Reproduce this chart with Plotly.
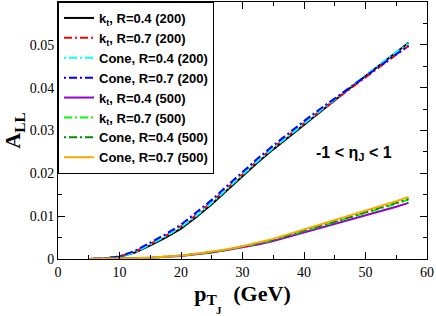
import plotly.graph_objects as go

pt = [5, 7.5, 10, 12.5, 15, 17.5, 20, 22.5, 25, 27.5, 30, 32.5, 35, 37.5, 40, 42.5, 45, 47.5, 50, 52.5, 55, 57]

kt04_200 = [0.0000, 0.0001, 0.0005, 0.0015, 0.0032, 0.0050, 0.0071, 0.0098, 0.0128, 0.0161, 0.0195,
            0.0226, 0.0256, 0.0285, 0.0314, 0.0342, 0.0370, 0.0399, 0.0427, 0.0455, 0.0483, 0.0505]
kt07_200 = [0.0000, 0.0001, 0.0006, 0.0017, 0.0035, 0.0054, 0.0076, 0.0103, 0.0133, 0.0166, 0.0199,
            0.0230, 0.0260, 0.0289, 0.0317, 0.0344, 0.0371, 0.0398, 0.0425, 0.0451, 0.0477, 0.0497]
cone04_200 = [0.0000, 0.0001, 0.0005, 0.0016, 0.0034, 0.0053, 0.0074, 0.0101, 0.0131, 0.0164, 0.0198,
              0.0229, 0.0259, 0.0288, 0.0317, 0.0345, 0.0373, 0.0401, 0.0429, 0.0456, 0.0483, 0.0503]
cone07_200 = [0.0000, 0.0001, 0.0006, 0.0019, 0.0038, 0.0058, 0.0080, 0.0108, 0.0138, 0.0171, 0.0204,
              0.0235, 0.0265, 0.0294, 0.0322, 0.0349, 0.0375, 0.0402, 0.0428, 0.0453, 0.0478, 0.0498]
kt04_500 = [0.0000, 0.00003, 0.0001, 0.0002, 0.0003, 0.0005, 0.0007, 0.0011, 0.0015, 0.0021, 0.0027,
            0.0034, 0.0042, 0.0052, 0.0062, 0.0071, 0.0081, 0.0091, 0.0101, 0.0111, 0.0122, 0.0131]
kt07_500 = [0.0000, 0.00003, 0.0001, 0.0002, 0.0003, 0.0005, 0.0008, 0.0012, 0.0016, 0.0022, 0.0029,
            0.0036, 0.0045, 0.0055, 0.0066, 0.0076, 0.0086, 0.0097, 0.0107, 0.0118, 0.0129, 0.0139]
cone04_500 = [0.0000, 0.00003, 0.0001, 0.0002, 0.0003, 0.0005, 0.0008, 0.0012, 0.0016, 0.0022, 0.0029,
              0.0037, 0.0045, 0.0056, 0.0066, 0.0077, 0.0087, 0.0098, 0.0108, 0.0119, 0.0130, 0.0140]
cone07_500 = [0.0000, 0.00003, 0.0001, 0.0002, 0.0003, 0.0005, 0.0008, 0.0012, 0.0017, 0.0023, 0.0030,
              0.0038, 0.0047, 0.0058, 0.0069, 0.0079, 0.0090, 0.0101, 0.0112, 0.0123, 0.0135, 0.0145]

x_ticks = [0, 10, 20, 30, 40, 50, 60]
y_ticks = [0, 0.01, 0.02, 0.03, 0.04, 0.05]
y_tick_text = ["0", "0.01", "0.02", "0.03", "0.04", "0.05"]

series = [
    ("k<sub>t</sub>, R=0.4 (200)", kt04_200, "#000000", "solid"),
    ("k<sub>t</sub>, R=0.7 (200)", kt07_200, "#ff0000", "8px,3px,2px,3px"),
    ("Cone, R=0.4 (200)", cone04_200, "#00ffff", "2px,3px,8px,3px"),
    ("Cone, R=0.7 (200)", cone07_200, "#0000ff", "2px,3px,8px,3px"),
    ("k<sub>t</sub>, R=0.4 (500)", kt04_500, "#9400d3", "solid"),
    ("k<sub>t</sub>, R=0.7 (500)", kt07_500, "#00ff00", "8px,3px,2px,3px"),
    ("Cone, R=0.4 (500)", cone04_500, "#008b00", "2px,3px,8px,3px"),
    ("Cone, R=0.7 (500)", cone07_500, "#ffa500", "solid"),
]

fig = go.Figure()
for name, vals, color, dash in series:
    fig.add_trace(go.Scatter(x=pt, y=vals, mode="lines", name=name,
                             line=dict(color=color, width=2, dash=dash)))

axis_common = dict(
    showline=True, linecolor="black", linewidth=1, mirror="allticks",
    ticks="inside", ticklen=7, tickcolor="black", tickwidth=1,
    showgrid=False, zeroline=False, automargin=False,
    tickfont=dict(family="Liberation Serif", size=14, color="black"),
)

title_font = dict(family="Liberation Serif", size=22, color="black", weight="bold")

fig.update_xaxes(range=[0, 60], tickvals=x_ticks,
                 minor=dict(ticks="inside", ticklen=4, tickcolor="black", dtick=5, tick0=0, showgrid=False),
                 title=dict(text="p<sub>T</sub>   (GeV)", font=title_font, standoff=6),
                 **axis_common)
fig.update_yaxes(range=[0, 0.06], tickvals=y_ticks, ticktext=y_tick_text,
                 minor=dict(ticks="inside", ticklen=4, tickcolor="black", dtick=0.005, tick0=0, showgrid=False),
                 title=dict(text="A<sub>LL</sub>", font=title_font, standoff=4),
                 **axis_common)

# second-level subscript "J" of the x-axis title
fig.add_annotation(x=0.424, y=-0.199, xref="paper", yref="paper", showarrow=False,
                   xanchor="left", yanchor="middle", text="J",
                   font=dict(family="Liberation Serif", size=11, color="black", weight="bold"))

fig.add_annotation(x=48.2, y=0.0247, xref="x", yref="y", showarrow=False,
                   text="-1 < η<sub>J</sub> < 1",
                   font=dict(family="Liberation Sans", size=16, color="black", weight="bold"))

fig.update_layout(
    width=436, height=316,
    margin=dict(l=58, r=9, t=2, b=57),
    plot_bgcolor="white", paper_bgcolor="white",
    legend=dict(x=0, y=1, xanchor="left", yanchor="top",
                bgcolor="white", bordercolor="black", borderwidth=1,
                font=dict(family="Liberation Sans", size=13, color="black", weight="bold"),
                itemwidth=30, tracegroupgap=0),
    showlegend=True,
)

fig.write_html("out.html", config={"displayModeBar": False},
               post_script="document.body.style.margin='0';document.body.style.overflow='hidden';")
